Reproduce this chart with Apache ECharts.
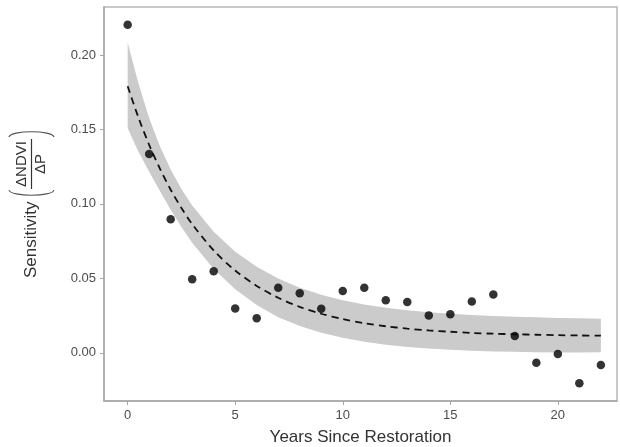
<!DOCTYPE html>
<html>
<head>
<meta charset="utf-8">
<script src="https://cdn.jsdelivr.net/npm/echarts@6/dist/echarts.min.js"></script>
<style>
html,body{margin:0;padding:0;background:#fff;}
#chart{width:620px;height:447px;}
</style>
</head>
<body>
<div id="chart"></div>
<script>
// Observed points
var years = [0,1,2,3,4,5,6,7,8,9,10,11,12,13,14,15,16,17,18,19,20,21,22];
var sensitivity = [0.2202,0.1335,0.0897,0.0493,0.0547,0.0298,0.0231,0.0437,0.0399,0.0296,0.0415,0.0437,0.0352,0.0341,0.0251,0.0258,0.0345,0.0392,0.0112,-0.0067,-0.0009,-0.0204,-0.0083];
// Fitted curve and confidence band
var fitX = [0,0.5,1,1.5,2,2.5,3,4,5,6,7,8,9,10,11,12,13,14,15,16,17,18,19,20,21,22];
var fitY = [0.1790,0.1580,0.1396,0.1236,0.1095,0.0972,0.0864,0.0687,0.0552,0.0449,0.0369,0.0308,0.0262,0.0226,0.0199,0.0178,0.0162,0.0150,0.0141,0.0133,0.0128,0.0124,0.0121,0.0118,0.0116,0.0115];
var bandUpper = [0.2083,0.1810,0.1576,0.1386,0.1230,0.1100,0.0989,0.0812,0.0678,0.0577,0.0499,0.0437,0.0389,0.0352,0.0324,0.0302,0.0285,0.0272,0.0262,0.0253,0.0247,0.0242,0.0238,0.0234,0.0231,0.0229];
var bandLower = [0.1507,0.1350,0.1216,0.1086,0.0960,0.0844,0.0739,0.0562,0.0426,0.0321,0.0239,0.0179,0.0135,0.0100,0.0074,0.0054,0.0039,0.0028,0.0020,0.0013,0.0009,0.0006,0.0004,0.0002,0.0001,0.0003];
var xTicks = [0,5,10,15,20];
var yTicks = [0,0.05,0.10,0.15,0.20];

var chart = echarts.init(document.getElementById('chart'));
var font = '"Liberation Sans", Arial, sans-serif';
var axisGray = '#a6a6a6';

var scatterData = years.map(function(x,i){return [x, sensitivity[i]];});
var fitData = fitX.map(function(x,i){return [x, fitY[i]];});

// Y-axis title: "Sensitivity (ΔNDVI / ΔP)" built as rotated group
var titleGroup = {
  type: 'group',
  x: 1, y: 278,
  rotation: Math.PI/2,
  silent: true,
  children: [
    {type:'text', style:{text:'Sensitivity', x:0, y:30, font:'17px '+font, fill:'#333', align:'left', verticalAlign:'middle'}},
    {type:'text', style:{text:'ΔNDVI', x:114, y:21, font:'15px '+font, fill:'#333', align:'center', verticalAlign:'middle'}},
    {type:'line', shape:{x1:89, y1:30.5, x2:139, y2:30.5}, style:{stroke:'#333', lineWidth:1.2}},
    {type:'text', style:{text:'ΔP', x:114, y:40, font:'15px '+font, fill:'#333', align:'center', verticalAlign:'middle'}},
    {type:'bezierCurve', shape:{x1:88, y1:8, x2:88, y2:53, cpx1:81, cpy1:9, cpx2:81, cpy2:52}, style:{stroke:'#555', lineWidth:1.2, fill:null}},
    {type:'bezierCurve', shape:{x1:141, y1:8, x2:141, y2:53, cpx1:148, cpy1:9, cpx2:148, cpy2:52}, style:{stroke:'#555', lineWidth:1.2, fill:null}}
  ]
};

function renderBand(params, api) {
  var pts = [];
  for (var i = 0; i < fitX.length; i++) pts.push(api.coord([fitX[i], bandUpper[i]]));
  for (var j = fitX.length - 1; j >= 0; j--) pts.push(api.coord([fitX[j], bandLower[j]]));
  return {type:'polygon', shape:{points: pts}, style:{fill:'#cbcbcb', stroke:null}};
}

chart.setOption({
  animation: false,
  backgroundColor: '#fff',
  grid: {left: 104, right: 3, top: 7, bottom: 46, show: true, borderColor: '#b8b8b8', borderWidth: 1.5,
         containLabel: false, outerBoundsMode: 'none'},
  xAxis: {
    type: 'value', min: -1.1, max: 22.75,
    name: 'Years Since Restoration', nameLocation: 'middle', nameGap: 28,
    nameTextStyle: {fontFamily: font, fontSize: 17, color: '#333'},
    axisLine: {show: true, onZero: false, lineStyle: {color: axisGray, width: 1.5}},
    axisTick: {show: true, length: 4, customValues: xTicks, lineStyle: {color: axisGray, width: 1}},
    axisLabel: {customValues: xTicks, margin: 8, fontFamily: font, fontSize: 13, color: '#4d4d4d'},
    splitLine: {show: false}
  },
  yAxis: {
    type: 'value', min: -0.0324, max: 0.2322,
    axisLine: {show: true, onZero: false, lineStyle: {color: axisGray, width: 1.5}},
    axisTick: {show: true, length: 4, customValues: yTicks, lineStyle: {color: axisGray, width: 1}},
    axisLabel: {customValues: yTicks, margin: 8, fontFamily: font, fontSize: 13, color: '#4d4d4d',
      formatter: function(v){return v.toFixed(2);}},
    splitLine: {show: false}
  },
  graphic: [titleGroup],
  series: [
    {type:'custom', data:[[0,0]], renderItem: renderBand, silent:true, z:1, clip:true},
    {type:'line', data: fitData, smooth:0.3, symbol:'none', lineStyle:{color:'#111', width:1.8, type:[7,5]}, z:2},
    {type:'scatter', data: scatterData, symbolSize: 8.5, itemStyle:{color:'#000'}, z:3}
  ]
});
</script>
</body>
</html>
